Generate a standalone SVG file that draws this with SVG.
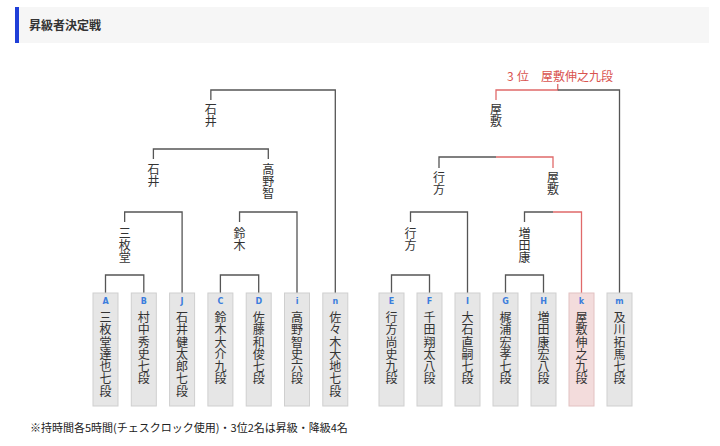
<svg xmlns="http://www.w3.org/2000/svg" width="720" height="446" viewBox="0 0 720 446">
<style>
text{font-family:"Noto Sans CJK JP","Noto Sans",sans-serif;}
.v{font-size:12px;fill:#333;writing-mode:vertical-rl;}
.nm{font-size:12px;fill:#333;writing-mode:vertical-rl;letter-spacing:0.3px;}
.ltr{font-size:8px;fill:#3b7ddd;text-anchor:middle;font-family:"DejaVu Sans",sans-serif;font-weight:bold;}
.box{fill:#e6e6e6;stroke:#cfcfcf;stroke-width:1;}
.boxw{fill:#f3dcdc;stroke:#e2c2c2;stroke-width:1;}
.ln{fill:none;stroke:#555;stroke-width:1.3;}
.rd{fill:none;stroke:#e06a6a;stroke-width:1.3;}
.red{fill:#d9534f;font-size:12px;}
</style>
<rect x="15" y="7" width="694" height="36" fill="#f6f6f6"/>
<rect x="15" y="7" width="4" height="36" fill="#1f3fd8"/>
<text x="29" y="29.5" font-size="12" font-weight="bold" fill="#333">昇級者決定戦</text>

<g id="connectors">
<path class="ln" d="M105.5,293V275H143.8V293"/>
<path class="ln" d="M124.65,222V212H182.1V293"/>
<path class="ln" d="M220.4,293V275H258.7V293"/>
<path class="ln" d="M239.55,222V212H297V293"/>
<path class="ln" d="M153.4,159V149H268.3V159"/>
<path class="ln" d="M210.85,100V90H335.3V293"/>
<path class="ln" d="M391.5,293V275H429.5V293"/>
<path class="ln" d="M410.5,222V212H467.5V293"/>
<path class="ln" d="M505.5,293V275H543.5V293"/>
<path class="ln" d="M524.5,222V212H553"/>
<path class="rd" d="M553,212H581.5V293"/>
<path class="ln" d="M439,168V157H496"/>
<path class="rd" d="M496,157H553V168"/>
<path class="rd" d="M496,100V90H557.75V84"/>
<path class="ln" d="M557.75,90H619.5V293"/>
</g>

<g id="labels">
<text class="v" x="210.85" y="103">石井</text>
<text class="v" x="153.4" y="163.5">石井</text>
<text class="v" x="268.3" y="163.5">高野智</text>
<text class="v" x="124.65" y="227.5">三枚堂</text>
<text class="v" x="239.55" y="227.5">鈴木</text>
<text class="v" x="496" y="103.5">屋敷</text>
<text class="v" x="439" y="171.5">行方</text>
<text class="v" x="553" y="171.5">屋敷</text>
<text class="v" x="410.5" y="227.5">行方</text>
<text class="v" x="524.5" y="227.5">増田康</text>
<text class="red"><tspan x="507" y="81">3</tspan><tspan x="517" y="81">位</tspan><tspan x="541" y="81">屋敷伸之九段</tspan></text>
</g>

<g id="node-A"><rect class="box" x="93" y="293" width="25" height="113"/><text class="ltr" x="105.5" y="303.5">A</text><text class="nm" x="105.5" y="311.4">三枚堂達也七段</text></g>
<g id="node-B"><rect class="box" x="131.3" y="293" width="25" height="113"/><text class="ltr" x="143.8" y="303.5">B</text><text class="nm" x="143.8" y="311.4">村中秀史七段</text></g>
<g id="node-J"><rect class="box" x="169.6" y="293" width="25" height="113"/><text class="ltr" x="182.1" y="303.5">J</text><text class="nm" x="182.1" y="311.4">石井健太郎七段</text></g>
<g id="node-C"><rect class="box" x="207.9" y="293" width="25" height="113"/><text class="ltr" x="220.4" y="303.5">C</text><text class="nm" x="220.4" y="311.4">鈴木大介九段</text></g>
<g id="node-D"><rect class="box" x="246.2" y="293" width="25" height="113"/><text class="ltr" x="258.7" y="303.5">D</text><text class="nm" x="258.7" y="311.4">佐藤和俊七段</text></g>
<g id="node-i"><rect class="box" x="284.5" y="293" width="25" height="113"/><text class="ltr" x="297" y="303.5">i</text><text class="nm" x="297" y="311.4">高野智史六段</text></g>
<g id="node-n"><rect class="box" x="322.8" y="293" width="25" height="113"/><text class="ltr" x="335.3" y="303.5">n</text><text class="nm" x="335.3" y="311.4">佐々木大地七段</text></g>

<g id="node-E"><rect class="box" x="379" y="293" width="25" height="113"/><text class="ltr" x="391.5" y="303.5">E</text><text class="nm" x="391.5" y="311.4">行方尚史九段</text></g>
<g id="node-F"><rect class="box" x="417" y="293" width="25" height="113"/><text class="ltr" x="429.5" y="303.5">F</text><text class="nm" x="429.5" y="311.4">千田翔太八段</text></g>
<g id="node-I"><rect class="box" x="455" y="293" width="25" height="113"/><text class="ltr" x="467.5" y="303.5">I</text><text class="nm" x="467.5" y="311.4">大石直嗣七段</text></g>
<g id="node-G"><rect class="box" x="493" y="293" width="25" height="113"/><text class="ltr" x="505.5" y="303.5">G</text><text class="nm" x="505.5" y="311.4">梶浦宏孝七段</text></g>
<g id="node-H"><rect class="box" x="531" y="293" width="25" height="113"/><text class="ltr" x="543.5" y="303.5">H</text><text class="nm" x="543.5" y="311.4">増田康宏八段</text></g>
<g id="node-k"><rect class="boxw" x="569" y="293" width="25" height="113"/><text class="ltr" x="581.5" y="303.5">k</text><text class="nm" x="581.5" y="311.4">屋敷伸之九段</text></g>
<g id="node-m"><rect class="box" x="607" y="293" width="25" height="113"/><text class="ltr" x="619.5" y="303.5">m</text><text class="nm" x="619.5" y="311.4">及川拓馬七段</text></g>

<text x="30" y="432" font-size="11" fill="#222">※持時間各5時間(チェスクロック使用)・3位2名は昇級・降級4名</text>
</svg>
